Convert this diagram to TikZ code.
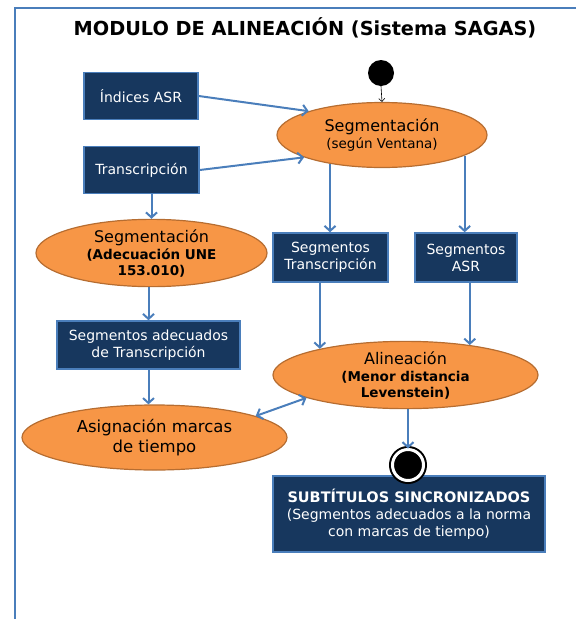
\documentclass[tikz,border=0pt]{standalone}
\usepackage{fontspec}
\setmainfont{DejaVu Sans}
\usepackage{tikz}
\usetikzlibrary{arrows.meta, positioning, shapes.geometric}
\definecolor{azuloscuro}{HTML}{17375E}
\definecolor{bordeazul}{HTML}{4A7EBB}
\definecolor{naranja}{HTML}{F79646}
\definecolor{bordenaranja}{HTML}{B66D31}
\newcommand{\letragrande}{\mdseries\fontsize{16}{19}\selectfont}
\newcommand{\letrachica}{\mdseries\fontsize{13.5}{16}\selectfont}
\newcommand{\negrita}{\bfseries\fontsize{13.5}{16}\selectfont}

\begin{document}
\begin{tikzpicture}[
        x=1pt, y=-1pt,
        caja/.style={rectangle, draw=bordeazul, line width=1.5pt, fill=azuloscuro, text=white,
          align=center, inner sep=0pt, font=\fontsize{14}{17}\selectfont},
        proceso/.style={ellipse, draw=bordenaranja, line width=1.2pt, fill=naranja,
          align=center, inner sep=0pt},
        flujo/.style={draw=bordeazul, line width=2pt, -{Straight Barb[length=5pt,width=11pt]}},
        flujodoble/.style={draw=bordeazul, line width=2pt, {Straight Barb[length=5pt,width=11pt]}-{Straight Barb[length=5pt,width=11pt]}},
        inicio/.style={circle, fill=black, inner sep=0pt, minimum size=26},
        final/.style={circle, fill=black, draw=black, line width=2pt, double=white,
          double distance=3pt, inner sep=0pt, minimum size=31}
      ]
      \useasboundingbox (0,0) rectangle (576,619);
      % Frame
      \draw[bordeazul, line width=2.5pt] (576,8) -- (15,8) -- (15,619);

      % Nodes
      \node[font=\bfseries\fontsize{19.3}{23}\selectfont] (titulo) at (305,28) {MODULO DE ALINEACIÓN (Sistema SAGAS)};
      \node[inicio] (ini) at (381,73) {};
      \node[caja, minimum width=114, minimum height=47] (indices) at (141,96) {Índices ASR};
      \node[caja, minimum width=115, minimum height=47] (transc) at (141.5,170) {Transcripción};
      \node[proceso, minimum width=210, minimum height=65, font=\letrachica] (segvent) at (382,135)
        {\letragrande Segmentación\\[1pt]\letrachica (según Ventana)};
      \node[proceso, minimum width=231, minimum height=64, font=\negrita] (segune) at (151.5,253)
        {\letragrande Segmentación\\[1pt]\negrita (Adecuación UNE\\\negrita 153.010)};
      \node[caja, minimum width=115, minimum height=49] (segtrans) at (330.5,257.5) {Segmentos\\Transcripción};
      \node[caja, minimum width=102, minimum height=49] (segasr) at (466,257.5) {Segmentos\\ASR};
      \node[caja, minimum width=183, minimum height=48] (segadec) at (148.5,345) {Segmentos adecuados\\de Transcripción};
      \node[proceso, minimum width=265, minimum height=64, font=\negrita] (alinea) at (405.5,375)
        {\letragrande Alineación\\[1pt]\negrita (Menor distancia\\\negrita Levenstein)};
      \node[proceso, minimum width=265, minimum height=65, font=\fontsize{16.5}{20}\selectfont] (asigna) at (154.5,437.5)
        {Asignación marcas\\de tiempo};
      \node[caja, minimum width=272, minimum height=76] (subtit) at (409,514)
        {\bfseries\fontsize{14.5}{17}\selectfont SUBTÍTULOS SINCRONIZADOS\\(Segmentos adecuados a la norma\\con marcas de tiempo)};
      \node[final] (fin) at (408,465) {};

      % Edges
      \draw[line width=0.6pt, -{Straight Barb[length=3pt,width=6pt]}] (ini.south) -- (segvent.north);
      \draw[flujo] (indices.east) -- (segvent.162);
      \draw[flujo] (transc.east) -- (segvent.196);
      \draw[flujo] (segvent.-151) -- (segvent.-151 |- segtrans.north);
      \draw[flujo] (segvent.-14.5) -- (segvent.-14.5 |- segasr.north);
      \draw[flujo] (transc.south -| segune.north) -- (segune.north);
      \draw[flujo] (segune.south -| segadec.north) -- (segadec.north);
      \draw[flujo] (segadec.south) -- (segadec.south |- asigna.north);
      \draw[flujo] (alinea.163 |- segtrans.south) -- (alinea.163);
      \draw[flujo] (alinea.25 |- segasr.south) -- (alinea.25);
      \draw[flujodoble] (alinea.193) -- (asigna.12);
      \draw[flujo] (alinea.south -| fin.north) -- (fin.north);
    \end{tikzpicture}
\end{document}
